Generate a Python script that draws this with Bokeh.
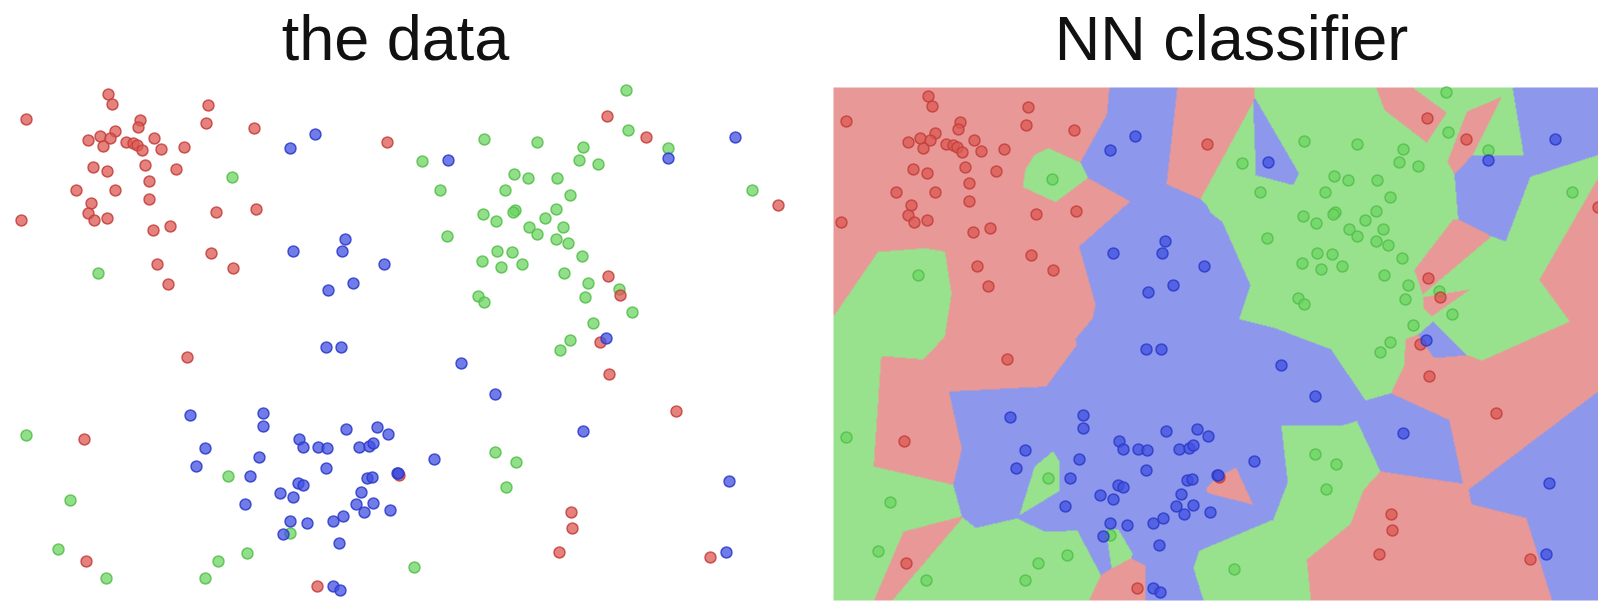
import numpy as np
from bokeh.plotting import figure
from bokeh.layouts import row
from bokeh.models import Range1d
from bokeh.core.properties import value
from bokeh.embed import file_html
from bokeh.resources import INLINE

# Sample points of the three classes (x to the right, y upwards)
red_x = [108, 112, 26, 208, 206, 254, 140, 138, 115, 88, 100, 110, 103, 126, 133, 137, 142, 154, 161, 184,
         93, 107, 145, 176, 149, 76, 115, 149, 91, 88, 94, 107, 21, 153, 170, 216, 256, 211, 233, 157, 168,
         387, 607, 646, 778, 608, 620, 600, 187, 84, 86, 609, 676, 571, 572, 559, 710, 317, 399]
red_y = [506, 496, 481, 495, 477, 472, 480, 473, 469, 460, 464, 462, 454, 458, 457, 455, 450, 462, 451, 453,
         433, 429, 435, 431, 419, 410, 410, 401, 397, 387, 380, 382, 380, 370, 374, 388, 391, 347, 332, 336, 316,
         458, 484, 463, 395, 324, 305, 258, 243, 161, 39, 226, 189, 88, 72, 48, 43, 14, 125]

green_x = [232, 98, 484, 537, 422, 440, 514, 528, 505, 483, 496, 515, 513, 529, 537, 447, 497, 512, 482, 501,
           522, 478, 484, 626, 628, 583, 579, 598, 668, 557, 570, 556, 545, 563, 556, 568, 582, 564, 588, 585,
           619, 632, 593, 570, 560, 752, 26, 70, 58, 106, 228, 247, 218, 205, 290, 495, 516, 506, 414]
green_y = [423, 327, 461, 458, 439, 410, 426, 422, 410, 386, 379, 390, 388, 373, 366, 364, 349, 348, 339, 333,
           336, 304, 298, 510, 470, 453, 440, 436, 452, 422, 405, 391, 382, 373, 361, 357, 344, 327, 317, 303,
           311, 288, 277, 260, 250, 410, 165, 100, 51, 22, 124, 47, 39, 22, 67, 148, 138, 113, 33]

blue_x = [315, 290, 448, 345, 342, 293, 384, 353, 328, 668, 735, 606, 583, 729, 726,
          190, 263, 263, 205, 196, 259, 250, 245, 280, 283, 326, 341, 461, 495, 346, 377, 388, 299, 303, 318,
          327, 359, 369, 373, 434, 326, 397, 398, 298, 303, 367, 372, 293, 361, 356, 373, 364, 390, 290, 307,
          333, 343, 339, 333, 340]
blue_y = [466, 452, 440, 361, 349, 349, 336, 317, 310, 442, 463, 262, 169, 119, 48,
          185, 187, 174, 152, 134, 143, 124, 96, 107, 66, 253, 253, 237, 206, 171, 173, 166, 161, 153, 153,
          152, 153, 154, 157, 141, 132, 127, 127, 117, 115, 122, 123, 103, 108, 96, 97, 88, 90, 79, 77,
          79, 84, 57, 14, 10]

# extent of the sampled domain
X_LO, X_HI = 13, 778
Y_LO, Y_HI = 2, 515

point_fill = {"red": "#dc5853", "green": "#6cd462", "blue": "#4150e2"}
point_line = {"red": "#c23f3b", "green": "#55be4b", "blue": "#2c3bc8"}
region_rgb = np.array([[232, 152, 150], [152, 226, 142], [141, 151, 236]], dtype=np.uint8)


def make_fig(w, x_range, y_range):
    # the frame fills the whole canvas; headings sit above the domain in data space
    p = figure(width=w, height=603, output_backend="svg", toolbar_location=None,
               x_axis_location=None, y_axis_location=None,
               x_range=Range1d(*x_range), y_range=Range1d(*y_range),
               min_border=0)
    p.grid.visible = False
    p.outline_line_color = None
    p.background_fill_color = "white"
    p.border_fill_color = "white"
    return p


def add_heading(p, text, x, y):
    p.text(x=[x], y=[y], text=[text], text_align="center", text_baseline="alphabetic",
           text_font=value("Liberation Sans"), text_font_size="63px", text_color="#111111")


def add_points(p):
    for name, xs, ys in (("green", green_x, green_y), ("red", red_x, red_y), ("blue", blue_x, blue_y)):
        p.scatter(xs, ys, size=11, fill_color=point_fill[name], fill_alpha=0.75,
                  line_color=point_line[name], line_width=1.5, line_alpha=0.85)


# left: raw data
left = make_fig(805, (0, 805), (-3, 600))
add_points(left)
add_heading(left, "the data", 395, 563)

# right: 1-nearest-neighbour decision regions
px = np.array(red_x + green_x + blue_x, dtype=float)
py = np.array(red_y + green_y + blue_y, dtype=float)
lab = np.array([0] * len(red_x) + [1] * len(green_x) + [2] * len(blue_x))

gx = np.arange(X_LO, X_HI) + 0.5
gy = np.arange(Y_LO, Y_HI) + 0.5
GX, GY = np.meshgrid(gx, gy)
best = np.full(GX.shape, np.inf)
cls = np.zeros(GX.shape, dtype=int)
for x, y, c in zip(px, py, lab):
    d = (GX - x) ** 2 + (GY - y) ** 2
    m = d < best
    best[m] = d[m]
    cls[m] = c

rgba = np.empty(GX.shape + (4,), dtype=np.uint8)
rgba[..., :3] = region_rgb[cls]
rgba[..., 3] = 255
img = rgba.view(np.uint32).reshape(GX.shape)

right = make_fig(793, (-15, 778), (-1, 602))
right.image_rgba(image=[img], x=X_LO, y=Y_LO, dw=X_HI - X_LO, dh=Y_HI - Y_LO)
add_points(right)
add_heading(right, "NN classifier", 411, 565)

layout = row(left, right)
open("out.html", "w").write(file_html(layout, INLINE))
